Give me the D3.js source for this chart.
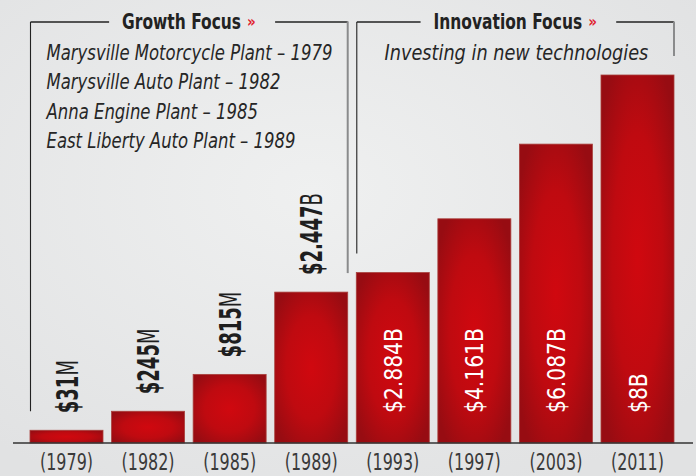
<!DOCTYPE html>
<html>
<head>
<meta charset="utf-8">
<script src="https://cdn.jsdelivr.net/npm/d3@7"></script>
<style>
  body { margin: 0; background: #e8e9ea; }
  svg { display: block; }
</style>
</head>
<body>
<svg></svg>
<script>
const width = 696, height = 476;

const years = ["1979", "1982", "1985", "1989", "1993", "1997", "2003", "2011"];
const amounts = [31, 245, 815, 2447, 2884, 4161, 6087, 8000]; // $ millions
const amountNumbers = ["$31", "$245", "$815", "$2.447", "$2.884", "$4.161", "$6.087", "$8"];
const amountUnits = ["M", "M", "M", "B", "B", "B", "B", "B"];
const phases = ["growth", "growth", "growth", "growth", "innovation", "innovation", "innovation", "innovation"];
const phaseIds = ["growth", "innovation"];
const phaseTitles = ["Growth Focus", "Innovation Focus"];
const growthNotes = [
    "Marysville Motorcycle Plant \u2013 1979",
    "Marysville Auto Plant \u2013 1982",
    "Anna Engine Plant \u2013 1985",
    "East Liberty Auto Plant \u2013 1989"
];
const innovationNotes = ["Investing in new technologies"];

const condFont = "'Liberation Sans Narrow','DejaVu Sans Condensed','Roboto Condensed',sans-serif";
const baseY = 443;

const svg = d3.select("svg").attr("width", width).attr("height", height);
const defs = svg.append("defs");

// horizontal squeeze factor (the original uses a narrow typeface)
function squeeze(el, target) {
    return target / el.getComputedTextLength();
}

// background
const bg = defs.append("radialGradient").attr("id", "bg")
    .attr("cx", "45%").attr("cy", "40%").attr("r", "70%");
bg.append("stop").attr("offset", "0%").attr("stop-color", "#eff0f0");
bg.append("stop").attr("offset", "100%").attr("stop-color", "#e1e2e3");
svg.append("rect").attr("width", width).attr("height", height).attr("fill", "url(#bg)");

// bar fill
const barGrad = defs.append("radialGradient").attr("id", "barGrad")
    .attr("cx", "50%").attr("cy", "50%").attr("r", "62%");
barGrad.append("stop").attr("offset", "0%").attr("stop-color", "#d0080f");
barGrad.append("stop").attr("offset", "55%").attr("stop-color", "#bf0a10");
barGrad.append("stop").attr("offset", "100%").attr("stop-color", "#970c12");

// Scales
const x = d3.scaleBand().domain(years).range([30, 674]).paddingInner(0.105).paddingOuter(0);
// the infographic does not draw heights linearly; a power scale approximates it
const y = d3.scalePow().exponent(0.78).domain([0, 8000]).range([baseY - 8, 75]);

const data = years.map((yr, i) => ({
    year: yr, amount: amounts[i], num: amountNumbers[i], unit: amountUnits[i], phase: phases[i]
}));

// Bars
svg.selectAll("rect.bar")
    .data(data)
    .enter().append("rect")
    .attr("class", "bar")
    .attr("x", d => x(d.year))
    .attr("width", x.bandwidth())
    .attr("y", d => y(d.amount))
    .attr("height", d => baseY - y(d.amount))
    .attr("fill", "url(#barGrad)")
    .attr("stroke", "#a9403c")
    .attr("stroke-width", 0.8);

// Baseline
svg.append("line")
    .attr("x1", 13).attr("x2", 693)
    .attr("y1", baseY).attr("y2", baseY)
    .attr("stroke", "#333").attr("stroke-width", 1.5);

// Year labels
const yearLabel = svg.selectAll("text.year")
    .data(data)
    .enter().append("text")
    .attr("class", "year")
    .attr("text-anchor", "middle")
    .attr("font-family", condFont)
    .attr("font-size", "23px")
    .attr("fill", "#3a3a3a")
    .text(d => "(" + d.year + ")");
const yearSx = squeeze(yearLabel.node(), 53);
yearLabel.attr("transform", d => `translate(${x(d.year) + x.bandwidth() / 2},470) scale(${yearSx},1)`);

// Value labels, rotated: above the bar in the growth phase, inside it afterwards
const vlabel = svg.selectAll("text.val")
    .data(data)
    .enter().append("text")
    .attr("class", "val")
    .attr("dy", "0.36em")
    .attr("font-family", condFont)
    .attr("font-size", d => d.phase === "growth" ? "31px" : "25px")
    .attr("fill", d => d.phase === "growth" ? "#1e1e1e" : "#ffffff");
vlabel.append("tspan")
    .attr("font-weight", d => d.phase === "growth" ? "bold" : "normal")
    .text(d => d.num);
vlabel.append("tspan")
    .attr("font-weight", "normal")
    .text(d => d.unit);
const outSx = squeeze(vlabel.nodes()[3], 82);
const inSx = squeeze(vlabel.nodes()[4], 85);
vlabel.attr("transform", d => {
    const cx = x(d.year) + x.bandwidth() / 2;
    const out = d.phase === "growth";
    const ty = out ? y(d.amount) - 17 : baseY - 30;
    return `translate(${cx},${ty}) rotate(-90) scale(${out ? outSx : inSx},1)`;
});

// Phase frames with titles and notes
let titleSx = null, noteSx = null;
phaseIds.forEach((p, k) => {
    const idx = phases.map((q, i) => q === p ? i : -1).filter(i => i >= 0);
    const first = data[idx[0]], last = data[idx[idx.length - 1]];
    const x0 = x(first.year) + 0.5;
    const x1 = x(last.year) + x.bandwidth();
    const topY = 22;
    const cx = (x0 + x1) / 2;

    const title = svg.append("text")
        .attr("font-family", condFont)
        .attr("font-size", "22px")
        .attr("font-weight", "bold")
        .attr("fill", "#222")
        .text(phaseTitles[k]);
    if (titleSx === null) titleSx = squeeze(title.node(), 119);
    const tw = title.node().getComputedTextLength() * titleSx;
    const chevW = 11, chevGap = 6;
    const tx = cx + 1 - (tw + chevGap + chevW) / 2;
    title.attr("transform", `translate(${tx},29) scale(${titleSx},1)`);
    svg.append("text")
        .attr("x", tx + tw + chevGap)
        .attr("y", 27)
        .attr("font-family", condFont)
        .attr("font-size", "15px")
        .attr("font-weight", "bold")
        .attr("fill", "#e0222e")
        .text("\u00bb");

    const g = svg.append("g").attr("fill", "none");
    g.append("line").attr("x1", x0).attr("x2", tx - 13).attr("y1", topY).attr("y2", topY)
        .attr("stroke", "#222").attr("stroke-width", 1.3);
    g.append("line").attr("x1", tx + tw + chevGap + chevW + 17).attr("x2", x1).attr("y1", topY).attr("y2", topY)
        .attr("stroke", "#222").attr("stroke-width", 1.3);
    g.append("line").attr("x1", x0).attr("x2", x0).attr("y1", topY).attr("y2", y(first.amount) - 19)
        .attr("stroke", "#222").attr("stroke-width", 1.1);
    g.append("line").attr("x1", x1).attr("x2", x1).attr("y1", topY - 0.6).attr("y2", y(last.amount) - 19)
        .attr("stroke", "#8a8b8c").attr("stroke-width", 2);

    const notes = p === "growth" ? growthNotes : innovationNotes;
    const many = notes.length > 1;
    const note = svg.selectAll("text.note-" + p)
        .data(notes)
        .enter().append("text")
        .attr("class", "note-" + p)
        .attr("text-anchor", many ? "start" : "middle")
        .attr("font-family", condFont)
        .attr("font-style", "italic")
        .attr("font-size", "20.5px")
        .attr("fill", "#262626")
        .text(d => d);
    const sx = many ? (noteSx = squeeze(note.node(), 286)) : squeeze(note.node(), 264);
    note.attr("transform", (d, i) =>
        `translate(${many ? x0 + 16 : cx + 1},${60 + i * 29.4}) scale(${sx},1)`);
});
</script>
</body>
</html>
